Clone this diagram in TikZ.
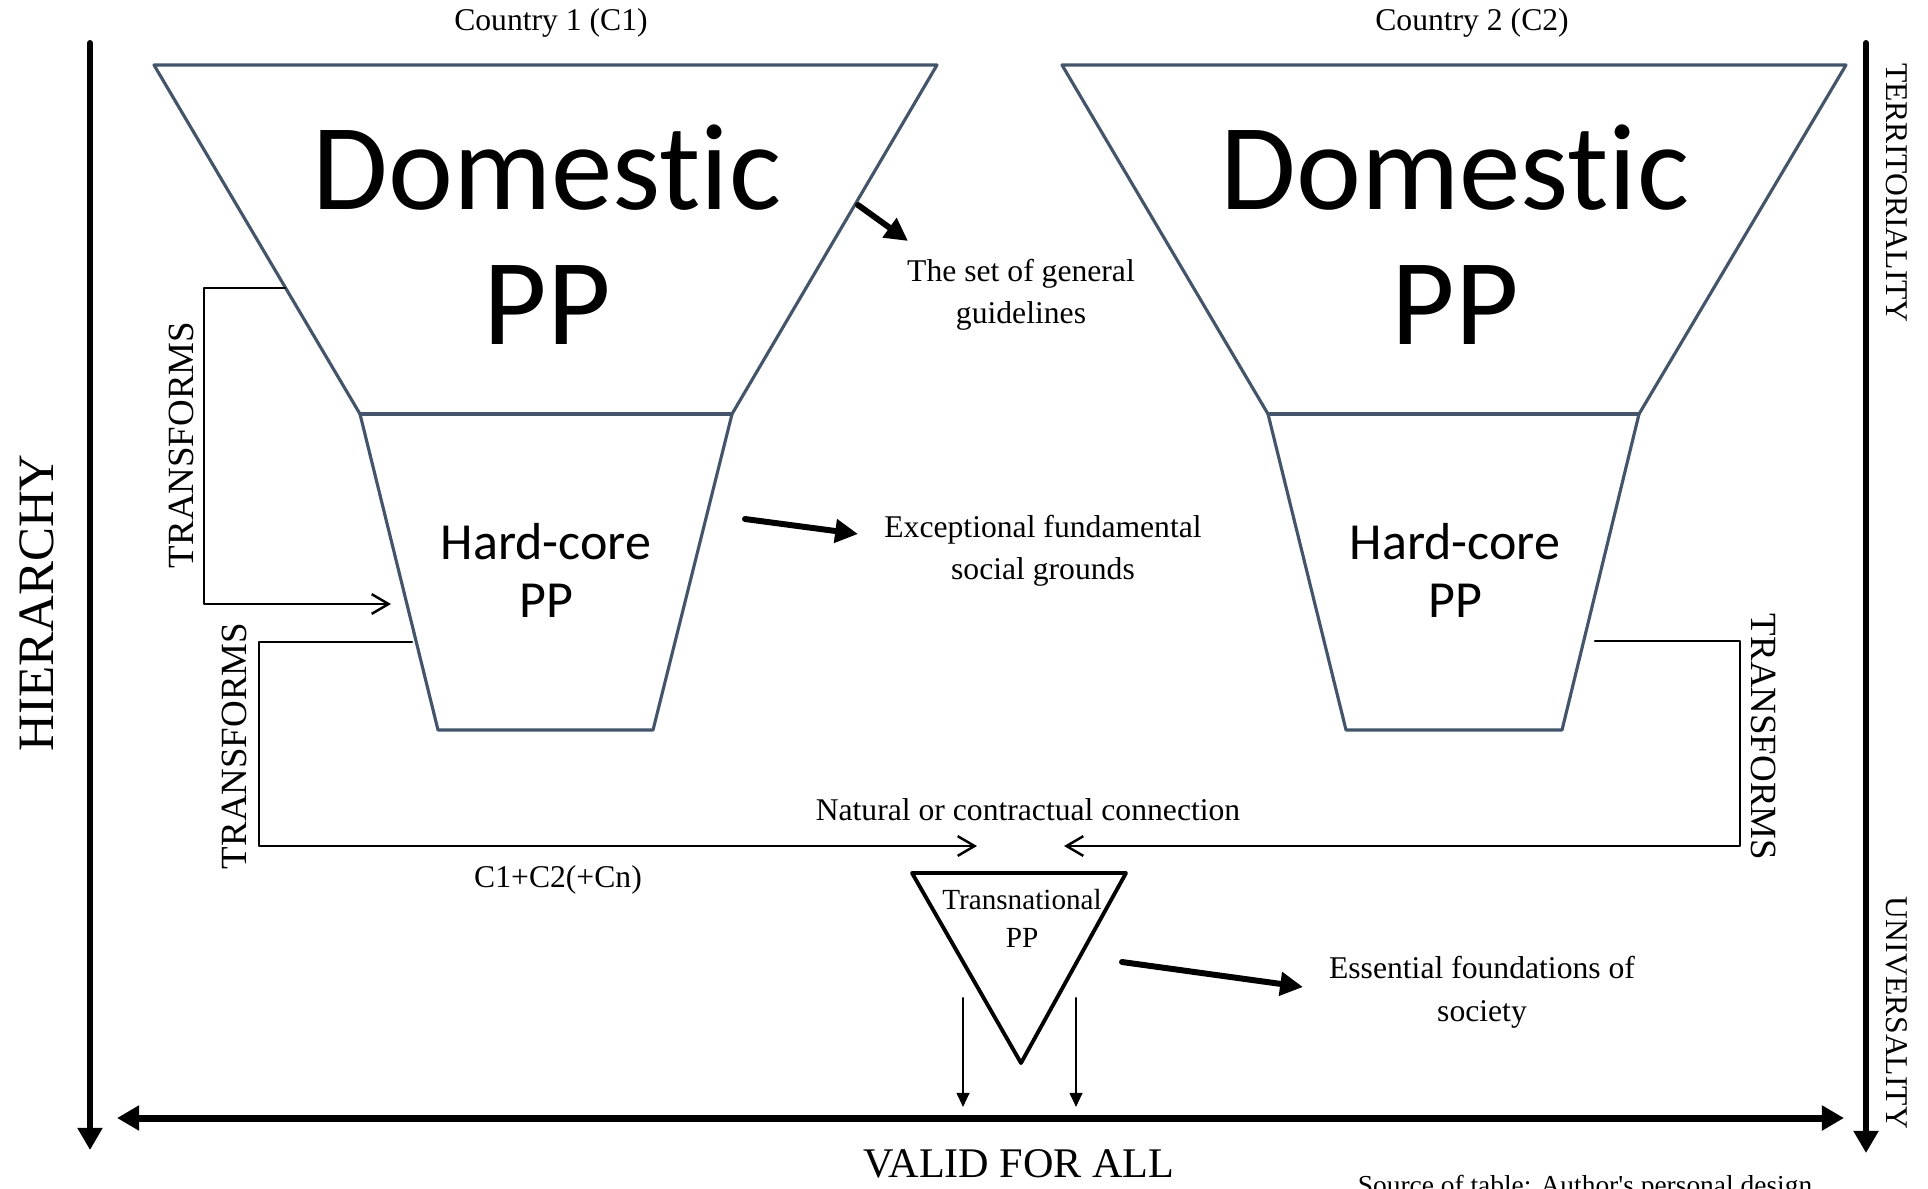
\documentclass[tikz,border=0pt]{standalone}
\usepackage{fontspec}
\setmainfont{Liberation Serif}
\newfontfamily\calibri[Ligatures=NoCommon]{Carlito}
\usetikzlibrary{arrows.meta}
\definecolor{funnelgray}{HTML}{44546A}

\begin{document}
\begin{tikzpicture}[line cap=round,line join=round,x=0.01cm,y=-0.01cm,
		funnel/.style={draw=funnelgray,line width=0.9pt},
		axis/.style={line width=1.7pt,-{Triangle[length=6.3pt,width=6.8pt]}},
		bigarrow/.style={line width=1.7pt,-{Triangle[length=6.5pt,width=6.5pt]}},
		link/.style={line width=0.7pt,-{Straight Barb[length=4.8pt,width=5.6pt]}},
		drop/.style={line width=0.6pt,-{Triangle[length=4pt,width=3.6pt]}},
		lbl/.style={inner sep=0pt,align=center,font=\fontsize{9}{12}\selectfont},
		domtext/.style={inner sep=0pt,align=center,font=\calibri\fontsize{35}{38.4}\selectfont},
		coretext/.style={inner sep=0pt,align=center,font=\calibri\fontsize{14.8}{16.5}\selectfont},
		sidetext/.style={inner sep=0pt,font=\fontsize{9}{11}\selectfont}]
		\useasboundingbox (0,0) rectangle (1928,1188);
		\coordinate (A1) at (154,65);
		\coordinate (A2) at (937,65);
		\coordinate (A3) at (732,414);
		\coordinate (A4) at (653,730);
		\coordinate (A5) at (438,730);
		\coordinate (A6) at (360,414);
		\coordinate (B1) at (1062,65);
		\coordinate (B2) at (1846,65);
		\coordinate (B3) at (1639,414);
		\coordinate (B4) at (1562,730);
		\coordinate (B5) at (1346,730);
		\coordinate (B6) at (1268,414);
		\draw [funnel] (A1) -- (A2) -- (A3) -- (A4) -- (A5) -- (A6) -- cycle;
		\draw [funnel] (A6) -- (A3);
		\draw [funnel] (B1) -- (B2) -- (B3) -- (B4) -- (B5) -- (B6) -- cycle;
		\draw [funnel] (B6) -- (B3);
		\node [domtext] (dom1) at (547,235) {Domestic\\PP};
		\node [domtext] (dom2) at (1455,235) {Domestic\\PP};
		\node [coretext] (core1) at (546,570) {Hard-core\\PP};
		\node [coretext] (core2) at (1455,570) {Hard-core\\PP};
		\node [sidetext] (c1) at (551,23) {Country 1 (C1)};
		\node [sidetext] (c2) at (1472,23) {Country 2 (C2)};
		\coordinate (T2) at (912,873);
		\coordinate (T3) at (1126,873);
		\coordinate (T4) at (1021,1063);
		\draw [line width=1.1pt] (T2) -- (T3) -- (T4) -- cycle;
		\node [inner sep=0pt,align=center,font=\fontsize{8.3}{10.8}\selectfont] (trans) at (1022,918) {Transnational\\PP};
		\node [lbl] (guide) at (1021,295) {The set of general\\guidelines};
		\node [lbl] (except) at (1043,551) {Exceptional fundamental\\social grounds};
		\node [lbl,font=\fontsize{9}{12.2}\selectfont] (essent) at (1482,992) {Essential foundations of\\society};
		\node [sidetext] (natural) at (1028,810) {Natural or contractual connection};
		\node [sidetext] (sum) at (558,880) {C1+C2(+Cn)};
		\node [inner sep=0pt,font=\fontsize{12}{14}\selectfont] (valid) at (1019,1164) {VALID FOR ALL};
		\node [inner sep=0pt,rotate=90,font=\fontsize{14.5}{17}\selectfont] (hier) at (37,603) {HIERARCHY};
		\node [inner sep=0pt,rotate=90,font=\fontsize{10.5}{12}\selectfont] (tr1) at (181,445) {TRANSFORMS};
		\node [inner sep=0pt,rotate=90,font=\fontsize{10.5}{12}\selectfont] (tr2) at (234,746) {TRANSFORMS};
		\node [inner sep=0pt,rotate=-90,font=\fontsize{10.5}{12}\selectfont] (tr3) at (1764,737) {TRANSFORMS};
		\node [sidetext,rotate=-90] (terr) at (1897,193) {TERRITORIALITY};
		\node [sidetext,rotate=-90] (univ) at (1897,1013) {UNIVERSALITY};
		\node [inner sep=0pt,anchor=base,font=\fontsize{7.8}{9}\selectfont] (source) at (1585,1194) {Source of table: Author\textquotesingle s personal design};
		\coordinate (h1) at (90,43);
		\coordinate (h2) at (90,1150);
		\coordinate (r1) at (1866,43);
		\coordinate (r2) at (1866,1153);
		\coordinate (v1) at (117,1118);
		\coordinate (v2) at (1844,1118);
		\draw [axis] (h1) -- (h2);
		\draw [axis] (r1) -- (r2);
		\draw [axis,{Triangle[length=6.3pt,width=6.8pt]}-{Triangle[length=6.3pt,width=6.8pt]},line width=2pt] (v1) -- (v2);
		\coordinate (s1) at (285,288);
		\coordinate (e1) at (391,604);
		\coordinate (s2) at (412,642);
		\coordinate (e2) at (977,846);
		\coordinate (s3) at (1595,641);
		\coordinate (e3) at (1064,846);
		\draw [link] (s1) -- (204,288) |- (e1);
		\draw [link] (s2) -- (259,642) |- (e2);
		\draw [link] (s3) -- (1740,641) |- (e3);
		\coordinate (d1) at (963,998);
		\coordinate (d2) at (963,1107);
		\coordinate (d3) at (1076,998);
		\coordinate (d4) at (1076,1107);
		\draw [drop] (d1) -- (d2);
		\draw [drop] (d3) -- (d4);
		\coordinate (g1) at (858,205);
		\coordinate (g2) at (908,241);
		\coordinate (x1) at (745,519);
		\coordinate (x2) at (858,534);
		\coordinate (f1) at (1122,962);
		\coordinate (f2) at (1303,987);
		\draw [bigarrow] (g1) -- (g2);
		\draw [bigarrow] (x1) -- (x2);
		\draw [bigarrow] (f1) -- (f2);
\end{tikzpicture}
\end{document}
